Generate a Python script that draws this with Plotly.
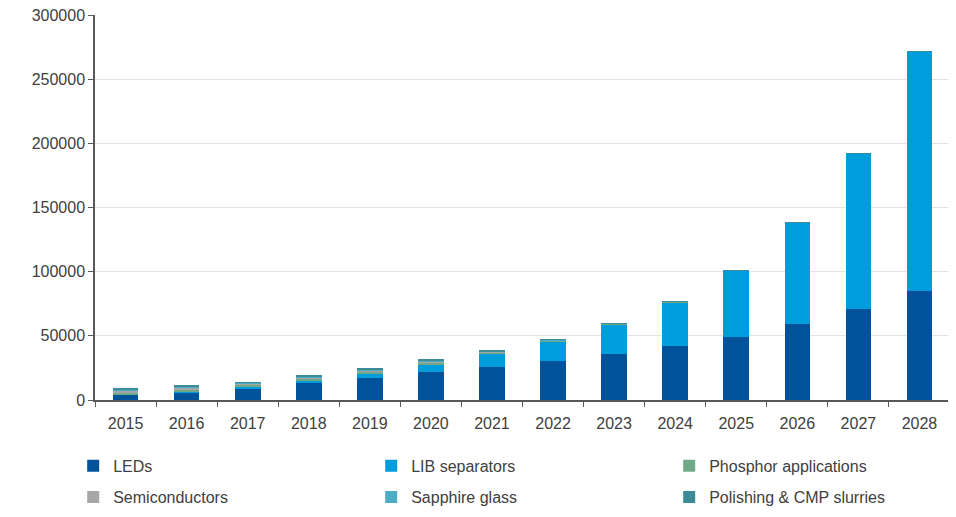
import plotly.graph_objects as go

years = ["2015", "2016", "2017", "2018", "2019", "2020", "2021", "2022", "2023", "2024", "2025", "2026", "2027", "2028"]
leds = [4100, 6000, 9100, 13000, 17400, 22000, 26000, 30400, 35900, 41800, 49300, 59000, 70700, 85200]
lib_separators = [500, 800, 1500, 2400, 3400, 6000, 9900, 15000, 23000, 34500, 51300, 79000, 121500, 186400]
phosphor = [1500, 1400, 1200, 1200, 1300, 1300, 1000, 700, 500, 400, 250, 100, 50, 50]
semiconductors = [1200, 1200, 1000, 1000, 1000, 1000, 700, 400, 250, 200, 100, 60, 30, 30]
sapphire = [1000, 900, 600, 700, 900, 800, 500, 300, 150, 100, 50, 30, 20, 20]
polishing = [800, 800, 400, 600, 700, 600, 300, 200, 100, 50, 30, 20, 10, 10]

series = [
    ("LEDs", leds, "#00529B", "legend"),
    ("LIB separators", lib_separators, "#009DDC", "legend"),
    ("Phosphor applications", phosphor, "#70A987", "legend"),
    ("Semiconductors", semiconductors, "#A6A6A6", "legend2"),
    ("Sapphire glass", sapphire, "#4BACC6", "legend2"),
    ("Polishing & CMP slurries", polishing, "#3F8A97", "legend2"),
]

fig = go.Figure()
for name, vals, col, lg in series:
    fig.add_trace(go.Bar(x=years, y=vals, name=name, legend=lg,
                         marker=dict(color=col, line=dict(width=0))))

legend_common = dict(orientation="h", x=-0.0255, xanchor="left", yanchor="middle",
                     entrywidth=253, entrywidthmode="pixels", traceorder="normal",
                     font=dict(size=16, color="#404040"), itemwidth=30,
                     bgcolor="rgba(0,0,0,0)")

fig.update_layout(
    barmode="stack",
    bargap=0.58,
    width=956, height=517,
    margin=dict(l=87, r=14, t=7, b=125, autoexpand=False),
    paper_bgcolor="white", plot_bgcolor="white",
    font=dict(family="Liberation Sans, Arial, sans-serif", size=16, color="#595959"),
    xaxis=dict(type="category", showline=True, linecolor="#595959", linewidth=1.5,
               ticks="outside", tickson="boundaries", ticklen=5, tickcolor="#595959",
               showgrid=False, ticklabelstandoff=8, automargin=False,
               tickfont=dict(size=16, color="#404040")),
    yaxis=dict(range=[0, 300000], dtick=50000, showline=True, linecolor="#595959", linewidth=1.5,
               ticks="outside", ticklen=5, tickcolor="#595959", tickformat="d",
               showgrid=True, gridcolor="#E3E3E3", gridwidth=1, zeroline=False, automargin=False,
               ticklabeloverflow="allow", tickfont=dict(size=16, color="#404040")),
    legend=dict(legend_common, y=-0.171),
    legend2=dict(legend_common, y=-0.252),
    showlegend=True,
)

fig.write_html("out.html")
